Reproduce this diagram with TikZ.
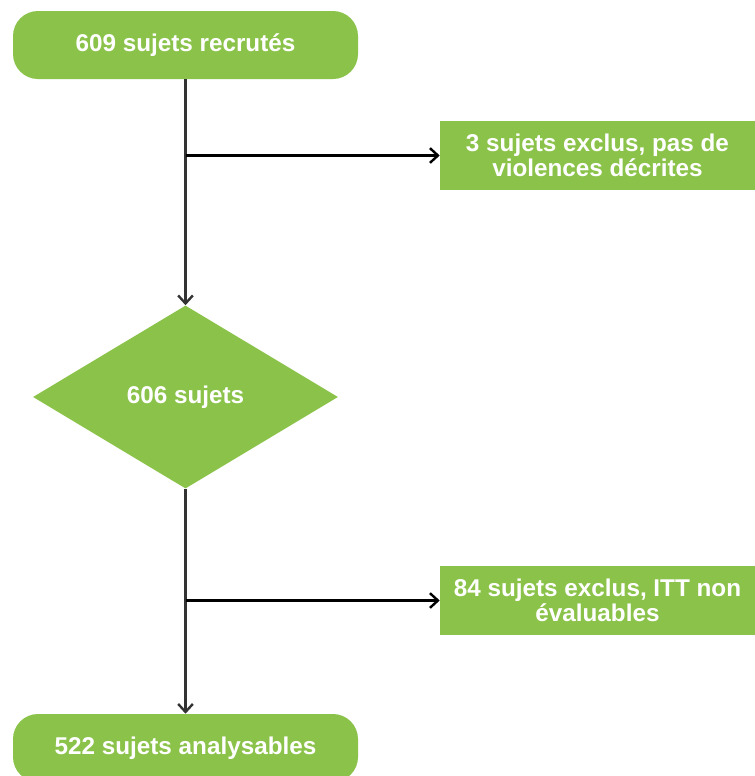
\documentclass[tikz,border=0pt]{standalone}
\usepackage{fontspec}
\setmainfont{Liberation Sans}
\usetikzlibrary{shapes.geometric,arrows.meta}
\definecolor{flowgreen}{RGB}{139,195,74}

\begin{document}
\begin{tikzpicture}[x=0.75pt,y=-0.75pt,
  every node/.style={text=white,font=\bfseries\fontsize{18.2}{19}\selectfont,align=center,inner sep=0pt},
  endbox/.style={fill=flowgreen,rounded corners=18.75pt,minimum width=258.75pt,minimum height=51pt},
  outbox/.style={fill=flowgreen,minimum width=236.25pt,minimum height=51.75pt},
  choice/.style={diamond,fill=flowgreen,minimum width=228.75pt,minimum height=137.25pt,aspect=1.667},
  flow/.style={line width=1.8pt,-{Straight Barb[length=6pt,width=11pt]}}]
\useasboundingbox (0,0) rectangle (755,776);
\node [endbox] (start) at (185.5,45) {609 sujets recrutés};
\node [outbox] (excl1) at (597.5,155.5) {3 sujets exclus, pas de\\violences décrites};
\node [choice] (mid) at (185.5,397) {606 sujets};
\node [outbox] (excl2) at (597.5,600.5) {84 sujets exclus, ITT non\\évaluables};
\node [endbox] (final) at (185.5,748) {522 sujets analysables};
\coordinate (fork1) at (185.5,155.5);
\coordinate (fork2) at (185.5,600.5);
\draw [flow,black!80] (start) -- (mid);
\draw [flow] (fork1) -- (excl1);
\draw [flow,black!80] (mid) -- (final);
\draw [flow] (fork2) -- (excl2);
\end{tikzpicture}
\end{document}
